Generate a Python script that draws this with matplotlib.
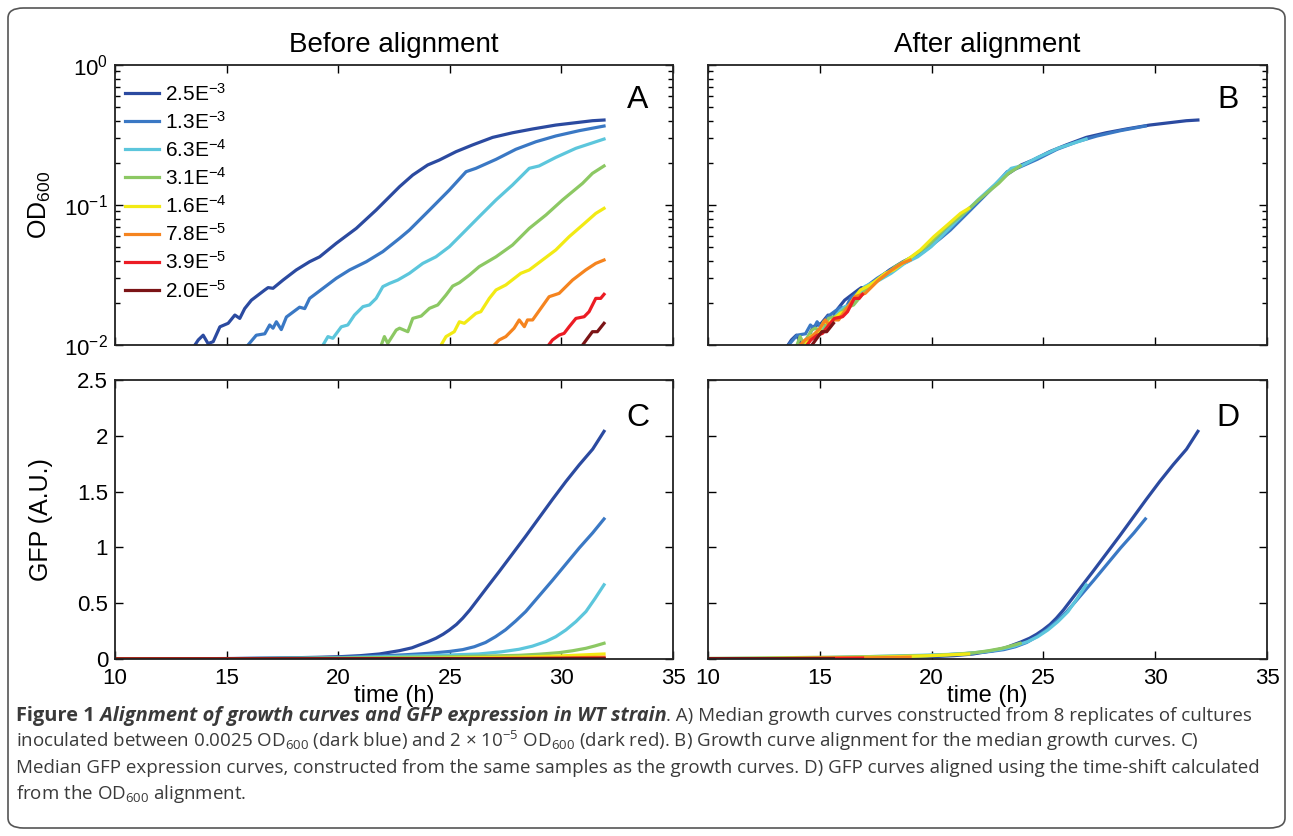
import numpy as np
import matplotlib
matplotlib.use('Agg')
import matplotlib.pyplot as plt
from matplotlib.patches import FancyBboxPatch

plt.rcParams['font.family'] = ['Liberation Sans', 'DejaVu Sans']
plt.rcParams['mathtext.default'] = 'regular'

# inoculum labels and colours (dark blue -> dark red)
labels = ['2.5E$^{-3}$', '1.3E$^{-3}$', '6.3E$^{-4}$', '3.1E$^{-4}$',
          '1.6E$^{-4}$', '7.8E$^{-5}$', '3.9E$^{-5}$', '2.0E$^{-5}$']
colors = ['#2b4aa0', '#3a78c4', '#5cc6dc', '#8cc863',
          '#f2ea14', '#f5841f', '#ec1c24', '#7b1416']

# time shift (h) found by the OD600 alignment
time_shift = [0.0, -2.35, -5.0, -7.95, -10.25, -12.87, -15.0, -16.3]

# median OD600 curves, read as (time h, log10 OD600)
od_t = [
    [13.5, 13.58, 13.73, 13.95, 14.17, 14.40, 14.70, 15.07, 15.37, 15.59, 15.81, 16.11, 16.71, 16.86, 17.08,
     17.53, 18.12, 18.72, 19.17, 19.91, 20.81, 21.70, 22.75, 23.34, 24.01, 24.53, 25.28, 26.02, 26.92,
     27.81, 28.71, 29.75, 30.65, 31.39, 31.91],
    [15.9, 15.96, 16.33, 16.71, 16.93, 17.08, 17.23, 17.45, 17.68, 18.27, 18.50, 18.72, 19.32, 19.91, 20.51,
     21.26, 22.0, 22.75, 23.19, 24.09, 24.98, 25.73, 26.17, 27.07, 27.96, 28.86, 29.75, 30.80, 31.91],
    [19.3, 19.32, 19.54, 19.76, 20.14, 20.43, 20.73, 21.11, 21.40, 21.70, 22.0, 22.30, 22.67, 23.19, 23.79,
     24.38, 24.98, 25.58, 26.32, 27.07, 27.81, 28.56, 29.0, 29.75, 30.65, 31.91],
    [21.9, 21.93, 22.07, 22.22, 22.6, 22.75, 23.12, 23.34, 23.72, 24.09, 24.46, 24.83, 25.13, 25.43, 25.88,
     26.32, 27.07, 27.81, 28.56, 29.31, 30.05, 30.95, 31.39, 31.91],
    [24.6, 24.61, 24.83, 25.2, 25.43, 25.65, 26.17, 26.39, 26.77, 27.07, 27.51, 28.18, 28.56, 29.15, 29.75,
     30.35, 30.95, 31.54, 31.91],
    [26.95, 26.99, 27.21, 27.51, 27.88, 28.11, 28.34, 28.48, 28.71, 29.08, 29.45, 29.90, 30.50, 31.09,
     31.54, 31.91],
    [29.4, 29.43, 29.60, 29.90, 30.12, 30.35, 30.65, 31.02, 31.24, 31.54, 31.76, 31.91],
    [30.9, 30.95, 31.17, 31.39, 31.61, 31.91],
]
od_log = [
    [-2.03, -2.0, -1.964, -1.93, -1.99, -1.976, -1.87, -1.845, -1.786, -1.81, -1.74, -1.68, -1.607, -1.59,
     -1.595, -1.536, -1.464, -1.405, -1.37, -1.274, -1.167, -1.036, -0.869, -0.786, -0.714, -0.679,
     -0.619, -0.571, -0.517, -0.484, -0.457, -0.429, -0.412, -0.398, -0.393],
    [-2.03, -2.0, -1.93, -1.92, -1.857, -1.88, -1.834, -1.89, -1.80, -1.73, -1.74, -1.667, -1.595, -1.524,
     -1.464, -1.405, -1.333, -1.238, -1.179, -1.036, -0.893, -0.762, -0.738, -0.674, -0.602, -0.548,
     -0.507, -0.469, -0.436],
    [-2.03, -2.0, -1.94, -1.952, -1.87, -1.857, -1.786, -1.726, -1.714, -1.667, -1.583, -1.56, -1.536,
     -1.488, -1.417, -1.37, -1.298, -1.202, -1.083, -0.964, -0.857, -0.738, -0.721, -0.66, -0.595, -0.529],
    [-2.03, -2.0, -1.94, -1.988, -1.893, -1.88, -1.905, -1.81, -1.793, -1.738, -1.714, -1.643, -1.579,
     -1.555, -1.5, -1.44, -1.37, -1.286, -1.167, -1.071, -0.964, -0.845, -0.774, -0.721],
    [-2.03, -2.0, -1.94, -1.905, -1.834, -1.845, -1.774, -1.762, -1.667, -1.607, -1.571, -1.488, -1.464,
     -1.393, -1.321, -1.226, -1.143, -1.06, -1.024],
    [-2.03, -2.0, -1.964, -1.94, -1.88, -1.821, -1.869, -1.821, -1.821, -1.738, -1.655, -1.631, -1.536,
     -1.464, -1.417, -1.393],
    [-2.03, -2.0, -1.964, -1.929, -1.917, -1.869, -1.81, -1.798, -1.762, -1.667, -1.667, -1.638],
    [-2.03, -2.0, -1.952, -1.905, -1.905, -1.845],
]

# median GFP curves (A.U.), read as (time h, value)
gfp_t = [
    [10, 13, 15, 17, 18, 19, 20, 21, 21.85, 22.75, 23.3, 23.64, 24.0, 24.38, 24.7, 24.98, 25.3, 25.58,
     25.9, 26.3, 26.7, 27.2, 27.8, 28.4, 29.0, 29.6, 30.2, 30.8, 31.4, 31.91],
    [10, 15, 18, 20, 21.85, 23, 24.09, 25, 25.58, 26.1, 26.6, 27.05, 27.5, 27.95, 28.4, 29.0, 29.6,
     30.2, 30.8, 31.4, 31.91],
    [10, 15, 20, 23.3, 25, 26.3, 27.3, 28.1, 28.7, 29.3, 29.75, 30.2, 30.65, 31.1, 31.5, 31.91],
    [10, 15, 20, 24.8, 27, 28.1, 29, 29.9, 30.5, 31.1, 31.5, 31.91],
    [10, 20, 25, 28, 30, 31.91],
    [10, 25, 30, 31.91],
    [10, 28, 31.91],
    [10, 31.91],
]
gfp_val = [
    [0.0, 0.002, 0.004, 0.008, 0.011, 0.015, 0.02, 0.03, 0.045, 0.075, 0.1, 0.126, 0.153, 0.186, 0.222,
     0.26, 0.31, 0.366, 0.44, 0.545, 0.65, 0.78, 0.94, 1.10, 1.265, 1.43, 1.59, 1.74, 1.88, 2.04],
    [0.0, 0.003, 0.008, 0.015, 0.027, 0.038, 0.051, 0.068, 0.084, 0.11, 0.148, 0.2, 0.262, 0.34, 0.425,
     0.565, 0.705, 0.85, 0.995, 1.13, 1.255],
    [0.0, 0.003, 0.01, 0.027, 0.036, 0.045, 0.064, 0.087, 0.115, 0.156, 0.2, 0.26, 0.335, 0.425, 0.54, 0.665],
    [0.0, 0.002, 0.008, 0.02, 0.028, 0.033, 0.043, 0.057, 0.074, 0.096, 0.117, 0.141],
    [0.0, 0.002, 0.008, 0.017, 0.028, 0.045],
    [0.0, 0.003, 0.01, 0.016],
    [0.0, 0.003, 0.008],
    [0.0, 0.004],
]

W, H = 1293, 836
fig = plt.figure(figsize=(W / 100, H / 100), dpi=100)


def px_axes(left, top, right, bottom):
    return fig.add_axes([left / W, 1 - bottom / H, (right - left) / W, (bottom - top) / H])


axA = px_axes(115, 65, 673, 345)
axB = px_axes(708, 65, 1267, 345)
axC = px_axes(115, 380, 673, 659)
axD = px_axes(708, 380, 1267, 659)

lw = 2.3
for i in range(len(labels)):
    t = np.array(od_t[i])
    od = 10 ** np.array(od_log[i])
    axA.plot(t, od, color=colors[i], lw=lw, label=labels[i])
    axB.plot(t + time_shift[i], od, color=colors[i], lw=lw)
    g_t = np.array(gfp_t[i])
    axC.plot(g_t, gfp_val[i], color=colors[i], lw=lw)
    axD.plot(g_t + time_shift[i], gfp_val[i], color=colors[i], lw=lw)

for ax in (axA, axB):
    ax.set_yscale('log')
    ax.set_ylim(0.01, 1)
    ax.set_yticks([0.01, 0.1, 1])
for ax in (axC, axD):
    ax.set_ylim(0, 2.5)
    ax.set_yticks([0, 0.5, 1, 1.5, 2, 2.5])

for ax in (axA, axB, axC, axD):
    ax.set_xlim(10, 35)
    ax.set_xticks([10, 15, 20, 25, 30, 35])
    ax.tick_params(which='both', direction='in', top=True, right=True, labelsize=16, width=1.0)
    ax.tick_params(which='major', length=6)
    ax.tick_params(which='minor', length=3.5)
    ax.tick_params(axis='x', pad=6.5)
    ax.tick_params(axis='y', pad=5)
    for sp in ax.spines.values():
        sp.set_linewidth(1.3)
        sp.set_color('#222222')

axA.set_yticklabels(['10$^{-2}$', '10$^{-1}$', '10$^{0}$'])
axC.set_yticklabels(['0', '0.5', '1', '1.5', '2', '2.5'])
for ax in (axA, axB):
    ax.set_xticklabels([])
for ax in (axB, axD):
    ax.set_yticklabels([])
    ax.tick_params(which='both', labelleft=False)

axA.set_title('Before alignment', fontsize=20, pad=9)
axB.set_title('After alignment', fontsize=20, pad=9)
axA.set_ylabel('OD$_{600}$', fontsize=18)
axC.set_ylabel('GFP (A.U.)', fontsize=18)
axA.yaxis.set_label_coords(-0.112, 0.5)
axC.yaxis.set_label_coords(-0.112, 0.5)
for ax in (axC, axD):
    ax.set_xlabel('time (h)', fontsize=17)
    ax.xaxis.set_label_coords(0.5, -0.092)

for ax, letter, xf, yf in ((axA, 'A', 0.937, 0.875), (axB, 'B', 0.93, 0.875),
                           (axC, 'C', 0.937, 0.864), (axD, 'D', 0.93, 0.864)):
    ax.text(xf, yf, letter, transform=ax.transAxes, fontsize=23, ha='center', va='center')

axA.legend(loc='upper left', bbox_to_anchor=(0.0, 0.975), frameon=False, fontsize=15,
           handlelength=1.6, handletextpad=0.3, labelspacing=0.30, borderpad=0.3,
           borderaxespad=0.2)

# outer frame
frame = FancyBboxPatch((8 / W, 8 / H), (W - 16) / W, (H - 16) / H,
                       boxstyle='round,pad=0,rounding_size=0.012', transform=fig.transFigure,
                       facecolor='none', edgecolor='#555555', lw=1.2)
fig.patches.append(frame)

# caption
cap_font = ['Open Sans', 'DejaVu Sans']
cap_size = 13.5
cap_color = '#3a3a3a'
caption = [
    [('Figure 1', 'bold', 'normal', 14.4),
     (' Alignment of growth curves and GFP expression in WT strain', 'bold', 'italic', 14.4),
     ('. A) Median growth curves constructed from 8 replicates of cultures', 'normal', 'normal', cap_size)],
    [('inoculated between 0.0025 OD$_{600}$ (dark blue) and 2 \u00d7 10$^{-5}$ OD$_{600}$ (dark red). '
      'B) Growth curve alignment for the median growth curves. C)', 'normal', 'normal', cap_size)],
    [('Median GFP expression curves, constructed from the same samples as the growth curves. '
      'D) GFP curves aligned using the time-shift calculated', 'normal', 'normal', cap_size)],
    [('from the OD$_{600}$ alignment.', 'normal', 'normal', cap_size)],
]
renderer = fig.canvas.get_renderer()
for k, line in enumerate(caption):
    x = 16 / W
    y = 1 - (721 + 26 * k) / H
    for s, weight, style, size in line:
        txt = fig.text(x, y, s, fontsize=size, fontweight=weight, fontstyle=style,
                       family=cap_font, color=cap_color, va='baseline', ha='left')
        x += txt.get_window_extent(renderer=renderer).width / W

fig.savefig('out.png', dpi=100)
